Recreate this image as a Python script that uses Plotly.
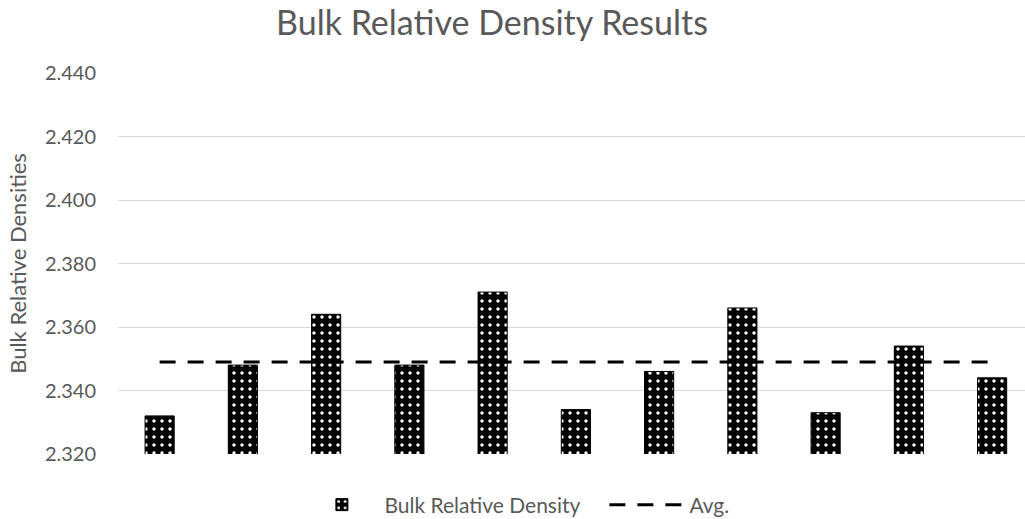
import plotly.graph_objects as go

# Sample numbers (one bar per specimen, no visible tick labels)
samples = [f"S{i}" for i in range(1, 12)]
bulk_density = [2.332, 2.348, 2.364, 2.348, 2.371, 2.334, 2.346, 2.366, 2.333, 2.354, 2.344]
avg_value = round(sum(bulk_density) / len(bulk_density), 3)
avg_line = [avg_value] * len(samples)

y_ticks = [2.320, 2.340, 2.360, 2.380, 2.400, 2.420, 2.440]

FONT = "Lato"
GREY = "#595959"

fig = go.Figure()

fig.add_trace(go.Bar(
    x=samples,
    y=bulk_density,
    name="Bulk Relative Density",
    width=0.35,
    marker=dict(
        color="black",
        line=dict(color="black", width=1),
        pattern=dict(shape=".", fgcolor="white", bgcolor="black",
                     size=8, solidity=0.15, fillmode="replace"),
    ),
))

fig.add_trace(go.Scatter(
    x=samples,
    y=avg_line,
    name="Avg.",
    mode="lines",
    line=dict(color="black", width=3, dash="16px,12px"),
))

fig.update_layout(
    width=1025,
    height=519,
    paper_bgcolor="white",
    plot_bgcolor="white",
    margin=dict(l=118, r=0, t=73, b=65, autoexpand=False),
    title=dict(text="Bulk Relative Density Results", x=0.48, xanchor="center",
               y=0.955, yanchor="middle",
               font=dict(family=FONT, size=34, color=GREY)),
    font=dict(family=FONT, color=GREY),
    showlegend=True,
    legend=dict(orientation="h", x=0.2, xanchor="left", y=-0.08, yanchor="top",
                font=dict(family=FONT, size=21, color=GREY), itemwidth=75,
                entrywidth=215, entrywidthmode="pixels",
                traceorder="normal"),
    bargap=0.58,
)

fig.update_xaxes(
    range=[-0.5, 10.395],
    showticklabels=False,
    showgrid=False,
    zeroline=False,
    showline=False,
    ticks="",
)

fig.update_yaxes(
    range=[2.320, 2.440],
    tickvals=y_ticks,
    tickformat=".3f",
    showgrid=True,
    gridcolor="#d9d9d9",
    gridwidth=1,
    zeroline=False,
    showline=False,
    ticks="",
    ticklabelstandoff=21,
    tickfont=dict(family=FONT, size=20, color=GREY),
    title=dict(text="Bulk Relative Densities", standoff=12,
               font=dict(family=FONT, size=22, color=GREY)),
)

fig.write_html("out.html")
